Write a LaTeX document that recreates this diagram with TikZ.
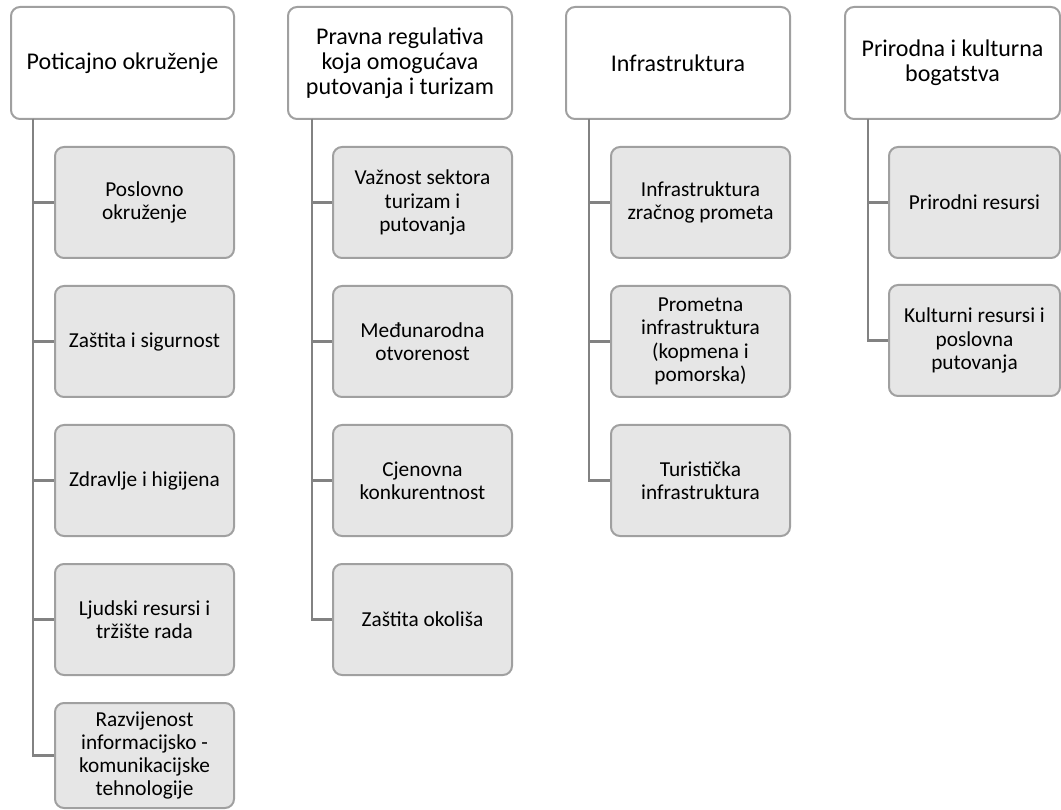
\documentclass[tikz,border=0pt]{standalone}
\usepackage{fontspec}
\setmainfont{Carlito}
\definecolor{boxline}{RGB}{160,160,160}
\definecolor{conn}{RGB}{130,130,130}
\definecolor{childfill}{RGB}{230,230,230}
\begin{document}
\begin{tikzpicture}[x=1pt,y=-1pt,
  every node/.style={text=black, align=center, inner sep=0pt},
  head/.style={draw=boxline, line width=2pt, fill=white, rounded corners=9pt, minimum height=112pt, font=\fontsize{24}{25}\selectfont},
  child/.style={draw=boxline, line width=2pt, fill=childfill, rounded corners=9pt, minimum width=179pt, minimum height=111pt, font=\fontsize{21.3}{23.3}\selectfont},
  conline/.style={draw=conn, line width=2.2pt}]
\useasboundingbox (0,0) rectangle (1061,810);
% headers
\node[head, minimum width=223pt] (h1) at (122.5,63) {Poticajno okruženje};
\node[head, minimum width=224pt] (h2) at (400,63) {Pravna regulativa\\koja omogućava\\putovanja i turizam};
\node[head, minimum width=224pt] (h3) at (678,63) {Infrastruktura};
\node[head, minimum width=215pt] (h4) at (952.5,63) {Prirodna i kulturna\\bogatstva};
% trunk coordinates
\coordinate (t1) at (33,119);
\coordinate (t2) at (312,119);
\coordinate (t3) at (589,119);
\coordinate (t4) at (868,119);
% column 1
\node[child] (a1) at (144.5,202.5) {Poslovno\\okruženje};
\node[child] (a2) at (144.5,341.5) {Zaštita i sigurnost};
\node[child] (a3) at (144.5,480.5) {Zdravlje i higijena};
\node[child] (a4) at (144.5,619.5) {Ljudski resursi i\\tržište rada};
\node[child, minimum height=105pt] (a5) at (144.5,755.5) {Razvijenost\\informacijsko -\\komunikacijske\\tehnologije};
% column 2
\node[child] (b1) at (422.5,202.5) {Važnost sektora\\turizam i\\putovanja};
\node[child] (b2) at (422.5,341.5) {Međunarodna\\otvorenost};
\node[child] (b3) at (422.5,480.5) {Cjenovna\\konkurentnost};
\node[child] (b4) at (422.5,619.5) {Zaštita okoliša};
% column 3
\node[child] (c1) at (700.5,202.5) {Infrastruktura\\zračnog prometa};
\node[child] (c2) at (700.5,341.5) {Prometna\\infrastruktura\\(kopmena i\\pomorska)};
\node[child] (c3) at (700.5,480.5) {Turistička\\infrastruktura};
% column 4
\node[child, minimum width=171pt] (d1) at (974.5,202.5) {Prirodni resursi};
\node[child, minimum width=171pt] (d2) at (974.5,340.5) {Kulturni resursi i\\poslovna\\putovanja};
% connectors
\foreach \c in {a1,a2,a3,a4,a5} \draw[conline] (t1) |- (\c.west);
\foreach \c in {b1,b2,b3,b4} \draw[conline] (t2) |- (\c.west);
\foreach \c in {c1,c2,c3} \draw[conline] (t3) |- (\c.west);
\foreach \c in {d1,d2} \draw[conline] (t4) |- (\c.west);
\end{tikzpicture}
\end{document}
